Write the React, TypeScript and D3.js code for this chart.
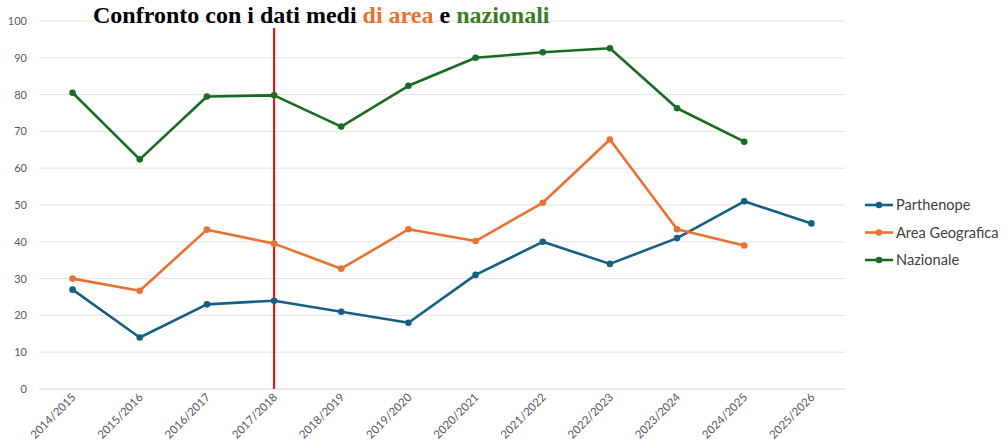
import React from 'react';
import * as d3 from 'd3';

const years = ['2014/2015', '2015/2016', '2016/2017', '2017/2018', '2018/2019', '2019/2020',
  '2020/2021', '2021/2022', '2022/2023', '2023/2024', '2024/2025', '2025/2026'];
const parthenope = [27, 14, 23, 24, 21, 18, 31, 40, 34, 41, 51, 45];
const areaGeo = [30, 26.7, 43.3, 39.5, 32.7, 43.4, 40.2, 50.6, 67.8, 43.4, 39];
const nazionale = [80.5, 62.4, 79.5, 79.8, 71.3, 82.4, 90, 91.5, 92.6, 76.3, 67.2];
const yTicks = [0, 10, 20, 30, 40, 50, 60, 70, 80, 90, 100];
const marker = '2017/2018';

const series = [
  { name: 'Parthenope', values: parthenope, color: '#156082' },
  { name: 'Area Geografica', values: areaGeo, color: '#E97132' },
  { name: 'Nazionale', values: nazionale, color: '#196B24' },
];

export default function App() {
  const width = 1005, height = 446;
  const left = 39, right = 845, top = 21, bottom = 389;

  const x = d3.scaleBand().domain(years).range([left, right]);
  const cx = (d: string) => (x(d) as number) + x.bandwidth() / 2;
  const y = d3.scaleLinear().domain([0, 100]).range([bottom, top]);

  const line = d3.line<number>()
    .x((_, i) => cx(years[i]))
    .y(d => y(d));

  return (
    <svg width={width} height={height} style={{ position: 'absolute', left: 0, top: 0 }}>
      <rect width={width} height={height} fill="#fff" />
      {yTicks.map(t => (
        <g key={t}>
          <line x1={left} x2={right} y1={y(t)} y2={y(t)} stroke={t === 0 ? '#d9d9d9' : '#e3e3e3'} strokeWidth={1} />
          <text x={27} y={y(t) + 4} textAnchor="end" fontFamily="Lato, sans-serif" fontSize={11} fill="#595959">{t}</text>
        </g>
      ))}
      {years.map(yr => (
        <text key={yr} transform={`translate(${cx(yr) + 4},${bottom + 9}) rotate(-45)`}
          textAnchor="end" fontFamily="Lato, sans-serif" fontSize={11.5} fill="#595959">{yr}</text>
      ))}
      <line x1={cx(marker)} x2={cx(marker)} y1={28} y2={bottom} stroke="#ff0000" strokeWidth={2} />
      {series.map(s => (
        <g key={s.name}>
          <path d={line(s.values) as string} fill="none" stroke={s.color} strokeWidth={2.6} strokeLinejoin="round" />
          {s.values.map((v, i) => (
            <circle key={i} cx={cx(years[i])} cy={y(v)} r={3.3} fill={s.color} />
          ))}
        </g>
      ))}
      <text x={93} y={23} fontFamily="'Liberation Serif', 'DejaVu Serif', serif" fontWeight="bold" fontSize={24}>
        <tspan fill="#000">Confronto con i dati medi</tspan>
        <tspan fill="#E97132"> di area</tspan>
        <tspan fill="#000"> e </tspan>
        <tspan fill="#3a7d22">nazionali</tspan>
      </text>
      {series.map((s, i) => {
        const ly = 205 + i * 27.5;
        return (
          <g key={s.name}>
            <line x1={865} x2={893} y1={ly} y2={ly} stroke={s.color} strokeWidth={2.6} />
            <circle cx={879} cy={ly} r={3.3} fill={s.color} />
            <text x={896} y={ly + 5} fontFamily="Lato, sans-serif" fontSize={14.6} fill="#404040">{s.name}</text>
          </g>
        );
      })}
    </svg>
  );
}
